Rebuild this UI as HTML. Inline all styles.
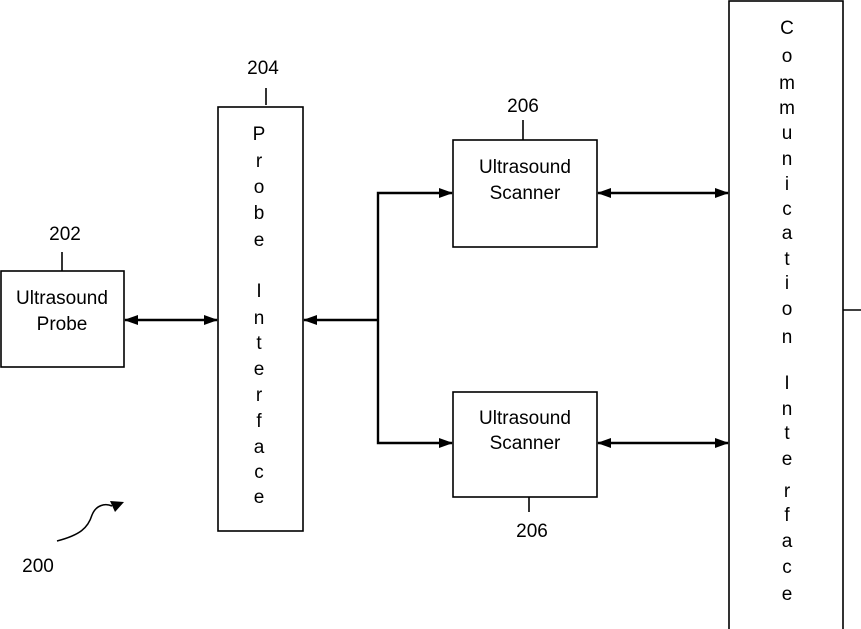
<!DOCTYPE html>
<html><head><meta charset="utf-8"><style>
html,body{margin:0;padding:0;background:#fff;}
svg{display:block}
text{font-family:"Liberation Sans",sans-serif;font-size:19px;fill:#000}
</style></head><body>
<svg width="861" height="629" viewBox="0 0 861 629" xmlns="http://www.w3.org/2000/svg">
<defs>
<marker id="a" markerWidth="14" markerHeight="10" refX="13" refY="5" orient="auto-start-reverse" markerUnits="userSpaceOnUse">
<path d="M0,0 L14,5 L0,10 z" fill="#000"/></marker>
</defs>
<g fill="none" stroke="#000" stroke-width="1.6">
<rect x="1" y="271" width="123" height="96"/>
<rect x="218" y="107" width="85" height="424"/>
<rect x="453" y="140" width="144" height="107"/>
<rect x="453" y="392" width="144" height="105"/>
<rect x="729" y="1" width="114" height="640"/>
<line x1="843" y1="310" x2="861" y2="310"/>
<line x1="266" y1="88" x2="266" y2="105"/>
<line x1="523" y1="120" x2="523" y2="140"/>
<line x1="62" y1="252" x2="62" y2="271"/>
<line x1="529" y1="497" x2="529" y2="512"/>
</g>
<g stroke="#000" stroke-width="2.4" fill="none">
<line x1="125" y1="320" x2="217" y2="320" marker-start="url(#a)" marker-end="url(#a)"/>
<line x1="378" y1="320" x2="304" y2="320" marker-end="url(#a)"/>
<polyline points="452,193 378,193 378,443 452,443" marker-start="url(#a)" marker-end="url(#a)"/>
<line x1="598" y1="193" x2="728" y2="193" marker-start="url(#a)" marker-end="url(#a)"/>
<line x1="598" y1="443" x2="728" y2="443" marker-start="url(#a)" marker-end="url(#a)"/>
</g>
<path d="M57,541 C80,535 88,528 92,515 C96,505 105,503 112,506" fill="none" stroke="#000" stroke-width="1.5"/>
<path d="M124,502 L110,501 L115,512 z" fill="#000"/>
<text x="263" y="74" text-anchor="middle">204</text>
<text x="523" y="112" text-anchor="middle">206</text>
<text x="65" y="240" text-anchor="middle">202</text>
<text x="532" y="537" text-anchor="middle">206</text>
<text x="38" y="572" text-anchor="middle">200</text>
<text x="62" y="304" text-anchor="middle">Ultrasound</text>
<text x="62" y="330" text-anchor="middle">Probe</text>
<text x="525" y="173" text-anchor="middle">Ultrasound</text>
<text x="525" y="199" text-anchor="middle">Scanner</text>
<text x="525" y="424" text-anchor="middle">Ultrasound</text>
<text x="525" y="449" text-anchor="middle">Scanner</text>
<g text-anchor="middle">
<text x="259" y="140">P</text><text x="259" y="167">r</text><text x="259" y="193">o</text><text x="259" y="219">b</text><text x="259" y="246">e</text>
<text x="259" y="297">I</text><text x="259" y="324">n</text><text x="259" y="349">t</text><text x="259" y="375">e</text><text x="259" y="401">r</text><text x="259" y="427">f</text><text x="259" y="453">a</text><text x="259" y="478">c</text><text x="259" y="503">e</text>
<text x="787" y="34">C</text><text x="787" y="62">o</text><text x="787" y="89">m</text><text x="787" y="114">m</text><text x="787" y="139">u</text><text x="787" y="165">n</text><text x="787" y="190">i</text><text x="787" y="215">c</text><text x="787" y="239">a</text><text x="787" y="265">t</text><text x="787" y="289">i</text><text x="787" y="315">o</text><text x="787" y="343">n</text>
<text x="787" y="389">I</text><text x="787" y="415">n</text><text x="787" y="439">t</text><text x="787" y="465">e</text><text x="787" y="497">r</text><text x="787" y="521">f</text><text x="787" y="547">a</text><text x="787" y="573">c</text><text x="787" y="600">e</text>
</g>
</svg>
</body></html>
